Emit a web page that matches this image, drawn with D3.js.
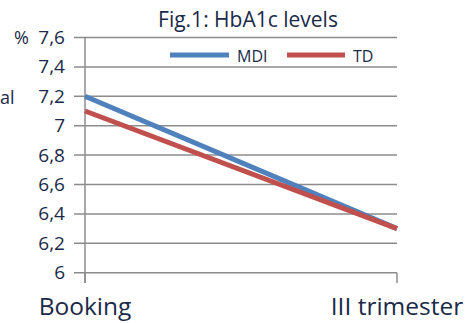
<!DOCTYPE html>
<html><head><meta charset="utf-8">
<script src="https://cdn.jsdelivr.net/npm/d3@7"></script>
<style>body{margin:0;background:#fff}svg{display:block}text{font-family:"Open Sans",sans-serif;fill:#1b2a48}</style>
</head><body>
<svg id="c" width="469" height="323"></svg>
<script>
const categories = ["Booking", "III trimester"];
const mdi = [7.2, 6.3];
const td = [7.1, 6.3];
const yTicks = [6, 6.2, 6.4, 6.6, 6.8, 7, 7.2, 7.4, 7.6];
const seriesNames = ["MDI", "TD"];
const colors = ["#4f81bd", "#c0504d"];

const svg = d3.select("#c");
const x = d3.scalePoint().domain(categories).range([85, 397]);
const y = d3.scaleLinear().domain([6, 7.6]).range([272.7, 37.5]);
const fmt = d => String(d).replace(".", ",");

// gridlines
svg.append("g").selectAll("line").data(yTicks).join("line")
  .attr("x1", 74).attr("x2", 397)
  .attr("y1", d => y(d)).attr("y2", d => y(d))
  .attr("stroke", "#8c8c8c").attr("stroke-width", 1.5);
// y axis
svg.append("line").attr("x1", 85).attr("x2", 85).attr("y1", y(7.6)).attr("y2", 283)
  .attr("stroke", "#8c8c8c").attr("stroke-width", 1.5);
// x ticks
svg.append("g").selectAll("line").data(categories).join("line")
  .attr("x1", d => x(d)).attr("x2", d => x(d)).attr("y1", y(6)).attr("y2", 283)
  .attr("stroke", "#8c8c8c").attr("stroke-width", 1.5);

// y labels
svg.append("g").selectAll("text").data(yTicks).join("text")
  .attr("x", 65).attr("y", d => y(d) + 6.5).attr("text-anchor", "end")
  .attr("font-size", 19).text(fmt);
svg.append("text").attr("x", 14).attr("y", y(7.6) + 6.5).attr("font-size", 18).text("%");
svg.append("text").attr("x", 0).attr("y", 104).attr("font-size", 18).text("al");

// x labels
svg.append("g").selectAll("text").data(categories).join("text")
  .attr("x", d => x(d)).attr("y", 315).attr("text-anchor", "middle")
  .attr("font-size", 24.5).text(d => d);

// title
svg.append("text").attr("x", 248).attr("y", 27).attr("text-anchor", "middle")
  .attr("font-size", 21).text("Fig.1: HbA1c levels");

// lines
const line = d3.line().x((d, i) => x(categories[i])).y(d => y(d));
[mdi, td].forEach((s, i) => {
  svg.append("path").attr("d", line(s)).attr("fill", "none")
    .attr("stroke", colors[i]).attr("stroke-width", 5);
});

// legend
const lg = [{x1: 170, x2: 229, tx: 237}, {x1: 287, x2: 345, tx: 353}];
seriesNames.forEach((n, i) => {
  svg.append("line").attr("x1", lg[i].x1).attr("x2", lg[i].x2).attr("y1", 55).attr("y2", 55)
    .attr("stroke", colors[i]).attr("stroke-width", 5);
  svg.append("text").attr("x", lg[i].tx).attr("y", 61.5).attr("font-size", 16).text(n);
});
</script>
</body></html>
